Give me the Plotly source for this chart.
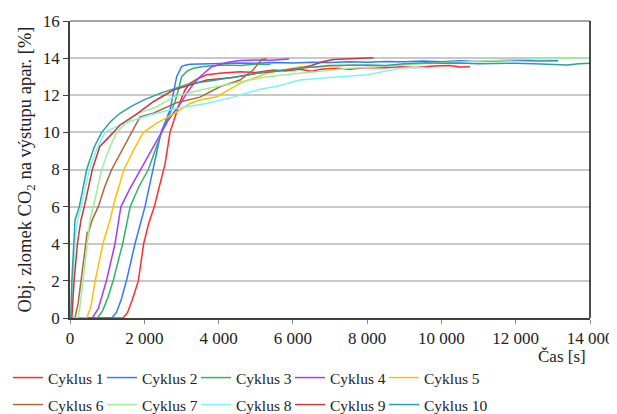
import plotly.graph_objects as go

# ---- data (time [s], CO2 [%]) ----
names = ["Cyklus 1", "Cyklus 2", "Cyklus 3", "Cyklus 4", "Cyklus 5",
         "Cyklus 6", "Cyklus 7", "Cyklus 8", "Cyklus 9", "Cyklus 10"]
colors = ["#FF2B2B", "#2F7BFF", "#2DB36B", "#A43BFF", "#FFC000",
          "#A8683A", "#9EEE9E", "#7FF3F3", "#C8383A", "#2E9E9E"]

c1_t = [0, 1430, 1550, 1680, 1840, 1983, 2120, 2270, 2420, 2560, 2692, 2830, 2980, 3100, 3230, 3450, 3680,
        4100, 4577, 5000, 5470, 5800, 6190, 6500, 6800, 7200, 7540, 8000, 8500, 8880, 9300, 9800, 10230, 10500, 10770]
c1_y = [0, 0, 0.3, 1.0, 2.0, 4.0, 5.1, 6.0, 7.2, 8.3, 10.0, 10.8, 11.74, 12.3, 12.64, 12.9, 13.1,
        13.2, 13.27, 13.22, 13.36, 13.3, 13.4, 13.3, 13.42, 13.45, 13.4, 13.5, 13.48, 13.54, 13.5, 13.58, 13.6, 13.52, 13.54]

c2_t = [0, 1120, 1250, 1380, 1525, 1750, 2019, 2243, 2450, 2692, 2872, 3005, 3100, 3230, 3500, 3800, 4200,
        4577, 5000, 5500, 6000, 6500, 7000, 7500, 8000, 8500, 9000, 9500, 10000, 10500, 11000, 11500, 12000, 12600, 13140]
c2_y = [0, 0, 0.3, 1.0, 2.05, 4.0, 6.0, 8.0, 10.0, 11.2, 13.0, 13.54, 13.62, 13.67, 13.68, 13.72, 13.7,
        13.74, 13.72, 13.76, 13.74, 13.78, 13.76, 13.8, 13.78, 13.82, 13.8, 13.84, 13.8, 13.86, 13.82, 13.85, 13.88, 13.84, 13.86]

c3_t = [0, 740, 880, 1020, 1167, 1418, 1620, 1860, 2109, 2300, 2468, 2650, 2827, 2916, 3005, 3150, 3320, 3600,
        4120, 4600, 5000, 5330, 5400]
c3_y = [0, 0, 0.4, 1.1, 2.05, 4.0, 6.0, 7.1, 8.0, 9.1, 10.0, 10.8, 11.65, 12.28, 13.0, 13.3, 13.45, 13.55,
        13.63, 13.6, 13.68, 13.66, 13.68]

c4_t = [0, 600, 760, 870, 987, 1211, 1370, 1620, 1900, 2180, 2450, 2650, 3005, 3140, 3320, 3500, 3815,
        4218, 4577, 5000, 5400, 5830, 5900]
c4_y = [0, 0, 0.5, 1.2, 2.05, 4.0, 6.0, 7.0, 8.0, 9.0, 10.0, 10.67, 11.65, 12.1, 12.6, 13.0, 13.54,
        13.76, 13.87, 13.9, 13.88, 13.93, 13.95]

c5_t = [0, 449, 560, 682, 885, 1077, 1200, 1454, 1700, 1974, 2333, 2800, 3230, 3500, 3950, 4390, 4577,
        5295, 5740, 6190, 6600, 7000, 7400, 7720]
c5_y = [0, 0, 0.6, 2.05, 4.0, 5.28, 6.3, 8.0, 9.0, 10.0, 10.5, 11.0, 11.56, 11.74, 11.92, 12.4, 12.64,
        13.18, 13.36, 13.54, 13.5, 13.58, 13.6, 13.63]

c6_t = [0, 135, 220, 300, 400, 466, 478, 600, 763, 940, 1122, 1400, 1660, 1884, 2243, 2872, 3500, 4038,
        4577, 4930, 5160, 5290]
c6_y = [0, 0, 0.8, 2.0, 3.6, 4.65, 4.45, 5.3, 6.0, 7.1, 8.0, 9.05, 10.0, 10.84, 11.03, 11.6, 11.9, 12.46,
        12.82, 13.36, 13.93, 13.97]

c7_t = [0, 215, 280, 350, 493, 538, 628, 852, 1050, 1256, 1500, 1800, 2333, 2780, 3500, 4390, 5295, 6190,
        7000, 7500, 8000, 8880, 9500, 10000, 10500, 11000, 11580, 12000, 12500, 13000, 13500, 14000]
c7_y = [0, 0, 0.8, 2.05, 4.74, 5.28, 6.0, 8.0, 9.1, 10.0, 10.5, 11.0, 11.38, 11.9, 12.28, 12.64, 13.0, 13.18,
        13.35, 13.45, 13.5, 13.63, 13.7, 13.75, 13.8, 13.85, 13.9, 13.92, 13.95, 13.97, 14.0, 14.02]

c8_t = [0, 40, 80, 130, 200, 300, 520, 700, 942, 1346, 1700, 2154, 2872, 3680, 4390, 5025, 5600, 6190,
        7000, 7990, 8500, 8880, 9300, 9700]
c8_y = [0, 0, 2.0, 4.0, 5.28, 6.0, 8.0, 9.0, 10.0, 10.4, 10.65, 10.94, 11.3, 11.56, 11.9, 12.28, 12.5, 12.82,
        12.95, 13.1, 13.3, 13.45, 13.5, 13.48]

c9_t = [0, 50, 110, 200, 296, 386, 601, 800, 1167, 1346, 1800, 2243, 2782, 3300, 3680, 4390, 5025, 5600,
        6190, 6500, 6800, 7090, 7540, 7900, 8170]
c9_y = [0, 0, 2.0, 4.0, 5.28, 6.0, 8.0, 9.23, 10.0, 10.4, 11.0, 11.65, 12.28, 12.6, 12.82, 12.95, 13.18, 13.3,
        13.45, 13.6, 13.8, 13.93, 13.97, 13.98, 14.02]

c10_t = [0, 20, 50, 90, 135, 251, 449, 650, 852, 1100, 1346, 1650, 1974, 2423, 2960, 3230, 3680, 4500, 5295,
         6190, 7000, 8000, 8500, 9000, 9600, 10000, 10500, 11000, 11500, 12000, 12500, 13000, 13380, 13700, 14000]
c10_y = [0, 0, 2.0, 4.0, 5.28, 6.0, 8.0, 9.2, 10.0, 10.6, 11.03, 11.4, 11.74, 12.1, 12.46, 12.64, 12.74, 13.0, 13.27,
         13.45, 13.6, 13.63, 13.6, 13.7, 13.75, 13.72, 13.74, 13.7, 13.72, 13.73, 13.7, 13.68, 13.63, 13.7, 13.72]

series_t = [c1_t, c2_t, c3_t, c4_t, c5_t, c6_t, c7_t, c8_t, c9_t, c10_t]
series_y = [c1_y, c2_y, c3_y, c4_y, c5_y, c6_y, c7_y, c8_y, c9_y, c10_y]

x_tickvals = [0, 2000, 4000, 6000, 8000, 10000, 12000, 14000]
x_ticktext = ["0", "2 000", "4 000", "6 000", "8 000", "10 000", "12 000", "14 000"]
y_tickvals = [0, 2, 4, 6, 8, 10, 12, 14, 16]

FONT = "Liberation Serif"
TXT = "#222222"

# plot area: 520 x 297 px; legend: 2 rows x 5 entries, one small legend per entry
PLOT_W, PLOT_H = 520.0, 297.0
LEG_X0 = -62.0 / PLOT_W          # left edge of the figure
LEG_STEP = 94.0 / PLOT_W
LEG_ROWS = [-60.0 / PLOT_H, -87.0 / PLOT_H]

fig = go.Figure()
legends = {}
for i in range(10):
    key = "legend" if i == 0 else "legend%d" % (i + 1)
    fig.add_trace(go.Scatter(
        x=series_t[i], y=series_y[i], mode="lines", name=names[i],
        line=dict(color=colors[i], width=1.5), legend=key,
    ))
    legends[key] = dict(orientation="h", xanchor="left", yanchor="middle",
                        x=LEG_X0 + LEG_STEP * (i % 5), y=LEG_ROWS[i // 5],
                        font=dict(family=FONT, size=15.5, color=TXT),
                        bgcolor="rgba(0,0,0,0)", borderwidth=0, itemwidth=30)

# page body has an 8px margin: the figure is sized so the plot area lands where the reference has it
fig.update_layout(
    width=609, height=406,
    margin=dict(l=62, r=27, t=13, b=96, autoexpand=False),
    paper_bgcolor="white", plot_bgcolor="white",
    font=dict(family=FONT, size=16, color=TXT),
    showlegend=True,
    xaxis=dict(range=[0, 14000], tickvals=x_tickvals, ticktext=x_ticktext,
               showgrid=False, zeroline=False, showline=True, linecolor="#404040", linewidth=1.5,
               ticks="outside", ticklen=4, tickcolor="#888888",
               tickfont=dict(family=FONT, size=17, color=TXT)),
    yaxis=dict(range=[0, 16], tickvals=y_tickvals,
               showgrid=True, gridcolor="#C8C8C8", gridwidth=1.5, zeroline=False,
               showline=True, linecolor="#404040", linewidth=1.5,
               ticks="outside", ticklen=5, tickcolor="#404040",
               tickfont=dict(family=FONT, size=17, color=TXT),
               title=dict(text="Obj. zlomek CO<sub>2</sub> na výstupu apar. [%]",
                          font=dict(family=FONT, size=18.5, color=TXT), standoff=6)),
    shapes=[
        dict(type="line", xref="paper", yref="paper", x0=0, x1=1, y0=1, y1=1,
             line=dict(color="#888888", width=1.5)),
        dict(type="line", xref="paper", yref="paper", x0=1, x1=1, y0=0, y1=1,
             line=dict(color="#111111", width=1.5)),
    ],
    annotations=[
        dict(text="Čas [s]", xref="paper", yref="paper", x=0.996, y=-0.128,
             xanchor="right", yanchor="middle", showarrow=False,
             font=dict(family=FONT, size=17, color=TXT)),
    ],
    **legends,
)

fig.write_html("out.html")
